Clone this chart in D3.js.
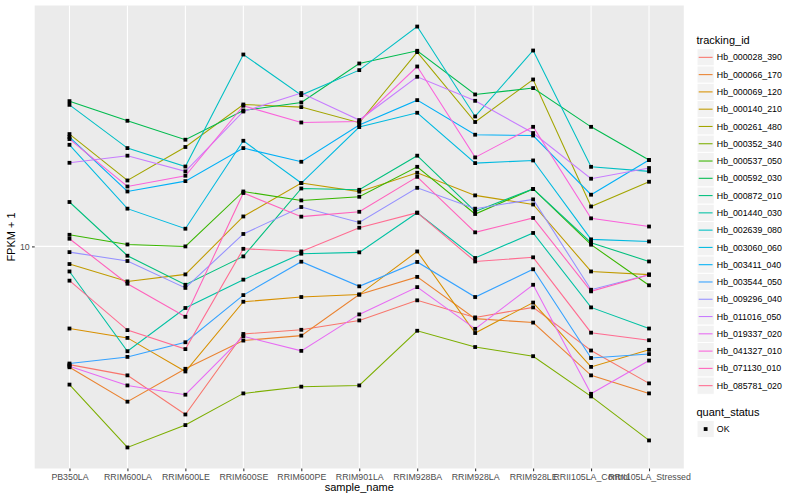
<!DOCTYPE html>
<html>
<head>
<meta charset="utf-8">
<script src="https://cdn.jsdelivr.net/npm/d3@7"></script>
<style>
  body { margin: 0; background: #fff; }
  svg { font-family: "Liberation Sans", Arial, sans-serif; }
</style>
</head>
<body>
<svg id="chart" width="800" height="500"></svg>
<script>
// x categories
const samples = ["PB350LA", "RRIM600LA", "RRIM600LE", "RRIM600SE", "RRIM600PE", "RRIM901LA",
  "RRIM928BA", "RRIM928LA", "RRIM928LE", "RRII105LA_Control", "RRII105LA_Stressed"];

const trackingIds = ["Hb_000028_390", "Hb_000066_170", "Hb_000069_120", "Hb_000140_210", "Hb_000261_480",
  "Hb_000352_340", "Hb_000537_050", "Hb_000592_030", "Hb_000872_010", "Hb_001440_030",
  "Hb_002639_080", "Hb_003060_060", "Hb_003411_040", "Hb_003544_050", "Hb_009296_040",
  "Hb_011016_050", "Hb_019337_020", "Hb_041327_010", "Hb_071130_010", "Hb_085781_020"];

// FPKM + 1, one value per sample
const hb_000028_390 = [5.80, 5.52, 4.61, 6.68, 6.81, 7.11, 7.80, 7.21, 7.55, 6.19, 5.32];
const hb_000066_170 = [5.73, 4.89, 5.69, 6.48, 6.63, 8.01, 8.69, 7.17, 7.04, 5.52, 5.08];
const hb_000069_120 = [6.85, 6.56, 5.62, 7.75, 7.92, 8.01, 9.77, 6.71, 7.72, 5.74, 6.21];
const hb_000140_210 = [9.22, 8.51, 8.79, 11.48, 13.39, 12.87, 14.04, 12.65, 12.13, 8.91, 8.78];
const hb_000261_480 = [16.78, 13.55, 15.81, 19.23, 19.00, 17.68, 24.48, 17.74, 21.58, 12.02, 13.47];
const hb_000352_340 = [5.29, 3.96, 4.39, 5.08, 5.24, 5.27, 6.78, 6.29, 6.03, 5.01, 4.09];
const hb_000537_050 = [10.55, 10.09, 10.00, 12.88, 12.36, 12.57, 14.43, 11.61, 13.03, 10.08, 8.36];
const hb_000592_030 = [19.53, 17.84, 16.35, 18.71, 19.41, 23.23, 24.63, 20.14, 20.74, 17.35, 14.89];
const hb_000872_010 = [12.27, 9.58, 8.38, 9.55, 13.06, 12.98, 15.19, 11.75, 13.03, 10.17, 9.33];
const hb_001440_030 = [8.91, 6.17, 7.53, 8.58, 9.67, 9.73, 11.68, 9.48, 10.64, 7.55, 6.85];
const hb_002639_080 = [19.20, 15.73, 14.45, 24.21, 20.08, 22.53, 27.54, 18.20, 24.66, 14.43, 14.13];
const hb_003060_060 = [15.97, 11.90, 10.85, 16.27, 13.39, 17.33, 18.51, 14.68, 14.86, 10.33, 10.23];
const hb_003411_040 = [16.55, 12.88, 13.51, 15.73, 14.77, 17.49, 19.62, 16.73, 16.67, 12.69, 14.89];
const hb_003544_050 = [5.83, 6.01, 6.43, 7.99, 9.32, 8.32, 9.31, 7.92, 9.00, 5.98, 6.09];
const hb_009296_040 = [9.74, 9.35, 8.26, 10.59, 11.99, 11.17, 13.10, 11.90, 12.42, 8.19, 8.78];
const hb_011016_050 = [14.70, 15.19, 14.13, 18.62, 20.27, 17.90, 21.85, 19.56, 16.86, 13.66, 14.35];
const hb_019337_020 = [5.76, 5.27, 5.05, 6.61, 6.18, 7.31, 8.29, 6.84, 8.38, 5.07, 5.91];
const hb_041327_010 = [16.40, 13.18, 13.85, 19.12, 17.70, 17.78, 22.91, 15.07, 17.35, 11.38, 10.96];
const hb_071130_010 = [10.36, 8.42, 7.23, 12.79, 11.47, 11.73, 13.78, 10.67, 11.40, 8.13, 8.78];
const hb_085781_020 = [8.54, 6.80, 6.23, 9.89, 9.77, 10.90, 11.68, 9.33, 9.51, 6.72, 6.49];

const series = [hb_000028_390, hb_000066_170, hb_000069_120, hb_000140_210, hb_000261_480,
  hb_000352_340, hb_000537_050, hb_000592_030, hb_000872_010, hb_001440_030,
  hb_002639_080, hb_003060_060, hb_003411_040, hb_003544_050, hb_009296_040,
  hb_011016_050, hb_019337_020, hb_041327_010, hb_071130_010, hb_085781_020];

const quantStatus = ["OK"];
const yTicks = [10];

// ggplot default hue palette for 20 levels
const palette = ["#F8766D", "#EA8331", "#D89000", "#C09B00", "#A3A500", "#7CAE00", "#39B600", "#00BB4E",
  "#00BF7D", "#00C1A3", "#00BFC4", "#00BAE0", "#00B0F6", "#35A2FF", "#9590FF", "#C77CFF",
  "#E76BF3", "#FA62DB", "#FF62BC", "#FF6C91"];

const svg = d3.select("#chart");
const panel = { left: 34.7, right: 683.8, top: 5.5, bottom: 468.5 };

const x = d3.scalePoint().domain(samples).range([panel.left, panel.right]).padding(0.6);

// log scale, 5% expansion like ggplot
const ext = d3.extent(series.flat()).map(Math.log10);
const pad = (ext[1] - ext[0]) * 0.05;
const y = d3.scaleLog()
  .domain([Math.pow(10, ext[0] - pad), Math.pow(10, ext[1] + pad)])
  .range([panel.bottom, panel.top]);

const color = d3.scaleOrdinal().domain(trackingIds).range(palette);

// panel background + grid
svg.append("rect")
  .attr("x", panel.left).attr("y", panel.top)
  .attr("width", panel.right - panel.left).attr("height", panel.bottom - panel.top)
  .attr("fill", "#EBEBEB");

svg.append("g").selectAll("line.vgrid")
  .data(samples).join("line")
  .attr("x1", d => x(d)).attr("x2", d => x(d))
  .attr("y1", panel.top).attr("y2", panel.bottom)
  .attr("stroke", "#fff").attr("stroke-width", 1.07);

svg.append("g").selectAll("line.hgrid")
  .data(yTicks).join("line")
  .attr("x1", panel.left).attr("x2", panel.right)
  .attr("y1", d => y(d)).attr("y2", d => y(d))
  .attr("stroke", "#fff").attr("stroke-width", 1.07);

// lines
const line = d3.line()
  .x((d, i) => x(samples[i]))
  .y(d => y(d));

svg.append("g").selectAll("path")
  .data(series).join("path")
  .attr("d", line)
  .attr("fill", "none")
  .attr("stroke", (d, i) => color(trackingIds[i]))
  .attr("stroke-width", 1.07);

// points (quant_status = OK, shape 15)
const pts = [];
series.forEach(s => s.forEach((v, i) => pts.push([samples[i], v])));
const sq = 3.8;
svg.append("g").selectAll("rect")
  .data(pts).join("rect")
  .attr("x", d => x(d[0]) - sq / 2)
  .attr("y", d => y(d[1]) - sq / 2)
  .attr("width", sq).attr("height", sq)
  .attr("fill", "#000");

// axes
const xAxis = svg.append("g")
  .attr("transform", `translate(0,${panel.bottom})`)
  .call(d3.axisBottom(x).tickSize(2.75).tickPadding(2.2));
const yAxis = svg.append("g")
  .attr("transform", `translate(${panel.left},0)`)
  .call(d3.axisLeft(y).tickValues(yTicks).tickFormat(d3.format("d")).tickSize(2.75).tickPadding(2.2));

[xAxis, yAxis].forEach(a => {
  a.select(".domain").remove();
  a.selectAll(".tick line").attr("stroke", "#333333").attr("stroke-width", 1.07);
  a.selectAll(".tick text")
    .attr("fill", "#4D4D4D")
    .style("font-size", "8.8px")
    .style("font-family", "'Liberation Sans', Arial, sans-serif");
});

svg.append("text")
  .attr("x", (panel.left + panel.right) / 2).attr("y", 491)
  .attr("text-anchor", "middle")
  .style("font-size", "11px")
  .text("sample_name");

svg.append("text")
  .attr("transform", `translate(15,${(panel.top + panel.bottom) / 2}) rotate(-90)`)
  .attr("text-anchor", "middle")
  .style("font-size", "11px")
  .text("FPKM + 1");

// legend: tracking_id
const lg = svg.append("g").attr("transform", "translate(697,0)");
const keyH = 17.28;
lg.append("text").attr("x", -0.5).attr("y", 44).style("font-size", "11px").text("tracking_id");

const items = lg.selectAll("g.item")
  .data(trackingIds).join("g")
  .attr("transform", (d, i) => `translate(0,${48.7 + i * keyH})`);
items.append("rect")
  .attr("width", keyH).attr("height", keyH)
  .attr("fill", "#F2F2F2").attr("stroke", "#fff").attr("stroke-width", 1);
items.append("line")
  .attr("x1", 1.7).attr("x2", keyH - 1.7)
  .attr("y1", keyH / 2).attr("y2", keyH / 2)
  .attr("stroke", d => color(d)).attr("stroke-width", 1.07);
items.append("text")
  .attr("x", 19.8).attr("y", keyH / 2 + 3.1)
  .style("font-size", "8.8px")
  .text(d => d);

// legend: quant_status
lg.append("text").attr("x", -0.5).attr("y", 416).style("font-size", "11px").text("quant_status");
const qs = lg.selectAll("g.qs")
  .data(quantStatus).join("g")
  .attr("transform", (d, i) => `translate(0,${420.4 + i * keyH})`);
qs.append("rect")
  .attr("width", keyH).attr("height", keyH)
  .attr("fill", "#F2F2F2").attr("stroke", "#fff").attr("stroke-width", 1);
qs.append("rect")
  .attr("x", keyH / 2 - sq / 2).attr("y", keyH / 2 - sq / 2)
  .attr("width", sq).attr("height", sq).attr("fill", "#000");
qs.append("text")
  .attr("x", 19.8).attr("y", keyH / 2 + 3.1)
  .style("font-size", "8.8px")
  .text(d => d);
</script>
</body>
</html>
